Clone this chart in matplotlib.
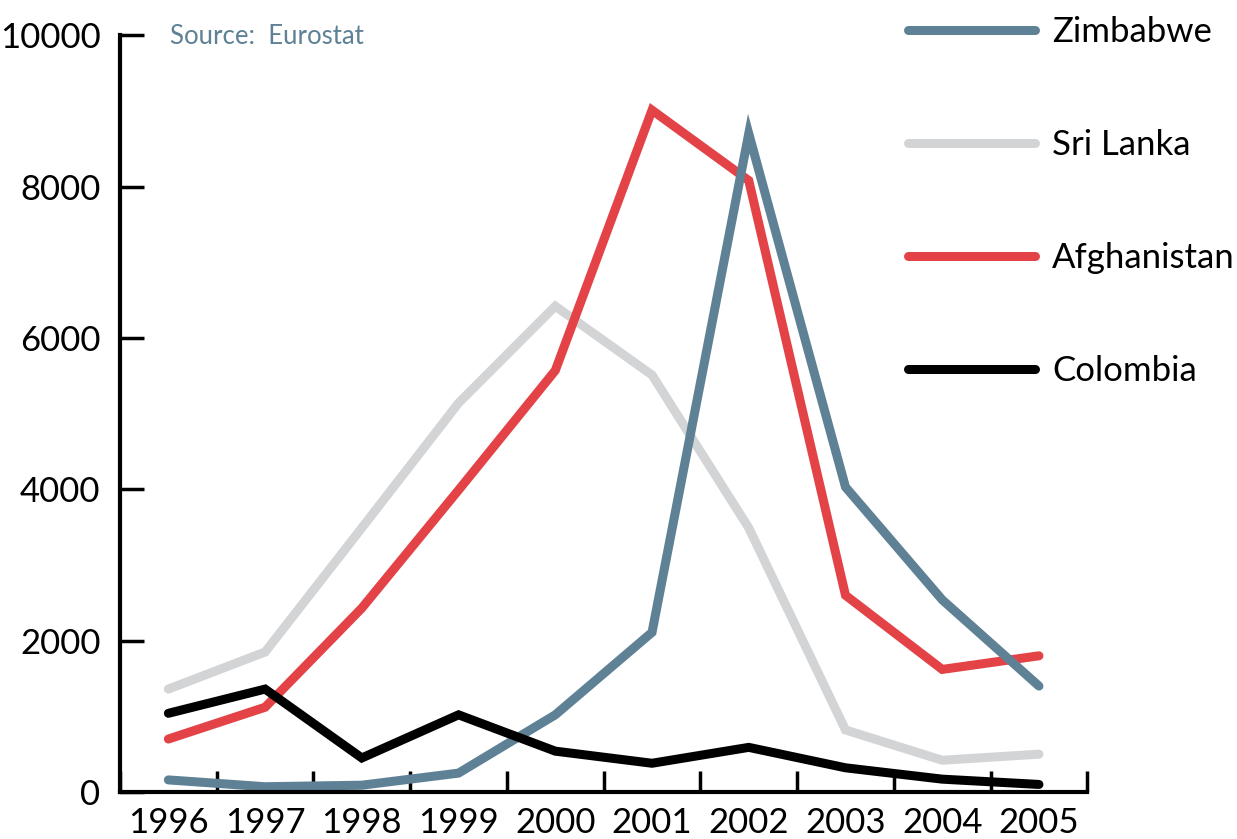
import matplotlib
matplotlib.use("Agg")
import matplotlib.pyplot as plt
import numpy as np

years = [1996, 1997, 1998, 1999, 2000, 2001, 2002, 2003, 2004, 2005]
zimbabwe = [160, 70, 90, 250, 1020, 2110, 8700, 4030, 2540, 1400]
sri_lanka = [1360, 1850, 3490, 5140, 6420, 5510, 3490, 820, 420, 500]
afghanistan = [700, 1120, 2430, 3990, 5570, 9010, 8080, 2600, 1620, 1800]
colombia = [1040, 1360, 450, 1020, 540, 380, 590, 320, 170, 100]

names = ["Zimbabwe", "Sri Lanka", "Afghanistan", "Colombia"]
series = [zimbabwe, sri_lanka, afghanistan, colombia]
colors = ["#5f8196", "#d3d4d6", "#e34346", "#000000"]

plt.rcParams["font.family"] = ["Lato", "DejaVu Sans"]

fig = plt.figure(figsize=(12.37, 8.39), dpi=100)
ax = fig.add_axes([0.097, 0.056, 0.782, 0.902])

# drawing order: grey at the back, black on top
order = [1, 2, 0, 3]
handles = {}
for i in order:
    ln, = ax.plot(years, series[i], color=colors[i], lw=6.5,
                  solid_capstyle="round", solid_joinstyle="miter", label=names[i])
    handles[i] = ln

ax.set_xlim(1995.5, 2005.5)
ax.set_ylim(0, 10000)
ax.set_yticks(np.arange(0, 10001, 2000))
ax.set_xticks(years)
ax.set_xticks(np.arange(1995.5, 2006, 1), minor=True)

for s in ["top", "right"]:
    ax.spines[s].set_visible(False)
for s in ["left", "bottom"]:
    ax.spines[s].set_linewidth(3)
    ax.spines[s].set_capstyle("projecting")

ax.tick_params(axis="y", direction="in", length=17, width=2.5, labelsize=25, pad=14)
ax.tick_params(axis="x", which="major", length=0, labelsize=25, pad=11)
ax.tick_params(axis="x", which="minor", direction="in", length=15, width=2.5)

ax.text(0.052, 0.998, "Source:  Eurostat", transform=ax.transAxes,
        color="#5f8196", fontsize=18.5, va="center", ha="left")

leg = fig.legend([handles[i] for i in range(4)], names,
                 loc="upper left", bbox_to_anchor=(0.709, 1.018),
                 frameon=False, fontsize=25, handlelength=3.66,
                 handletextpad=0.49, labelspacing=2.33)

fig.savefig("out.png", dpi=100)
